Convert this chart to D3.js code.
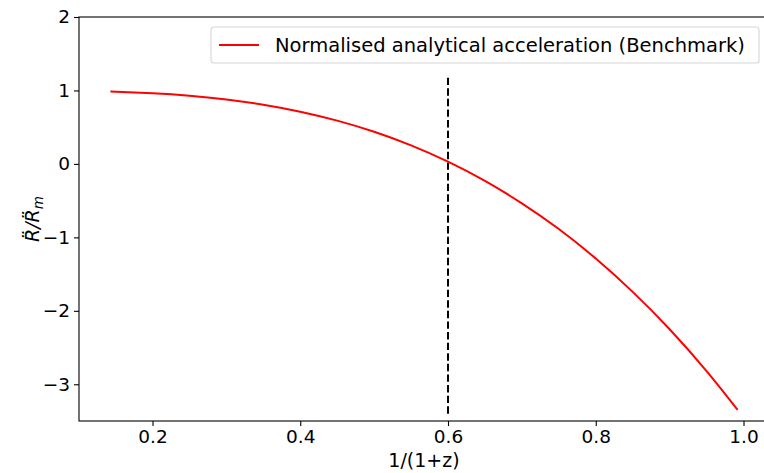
<!DOCTYPE html>
<html>
<head>
<meta charset="utf-8">
<script src="https://cdn.jsdelivr.net/npm/d3@7"></script>
<style>
  body { margin: 0; background: #fff; }
  svg { font-family: "DejaVu Sans", sans-serif; }
</style>
</head>
<body>
<svg id="chart" width="764" height="473"></svg>
<script>
// valores
let scaleFactor = [0.143, 0.20, 0.25, 0.30, 0.35, 0.40, 0.45, 0.50, 0.55, 0.60, 0.65, 0.70, 0.75, 0.80, 0.85, 0.90, 0.95, 0.992];
let accel = [0.987, 0.963, 0.929, 0.877, 0.806, 0.711, 0.589, 0.437, 0.252, 0.030, -0.232, -0.537, -0.887, -1.288, -1.742, -2.251, -2.820, -3.347];
let xTicks = [0.2, 0.4, 0.6, 0.8, 1.0];
let yTicks = [-3, -2, -1, 0, 1, 2];
let vLineX = 0.6;
let vLineY = [-3.4, 1.2];
let legendLabel = 'Normalised analytical acceleration (Benchmark)';

let margin = {left: 79, top: 17, right: 769, bottom: 421};

let svg = d3.select('#chart');

let x = d3.scaleLinear().domain([0.1005, 1.0345]).range([margin.left, margin.right]);
let y = d3.scaleLinear().domain([-3.5, 2]).range([margin.bottom, margin.top]);

// ejes
let xAxis = svg.append('g')
    .attr('transform', 'translate(0,' + margin.bottom + ')')
    .call(d3.axisBottom(x).tickValues(xTicks).tickFormat(d3.format('.1f')).tickSizeInner(5).tickSizeOuter(0).tickPadding(4));

let yAxis = svg.append('g')
    .attr('transform', 'translate(' + margin.left + ',0)')
    .call(d3.axisLeft(y).tickValues(yTicks).tickFormat(d => d < 0 ? '\u2212' + Math.abs(d) : d).tickSizeInner(5).tickSizeOuter(0).tickPadding(4));

[xAxis, yAxis].forEach(function(a) {
    a.selectAll('text').attr('font-size', 18.5).attr('fill', '#000').attr('font-family', 'DejaVu Sans');
    a.selectAll('line').attr('stroke', '#000').attr('stroke-width', 1.1);
    a.select('.domain').remove();
});

// marco
svg.append('rect')
    .attr('x', margin.left).attr('y', margin.top)
    .attr('width', margin.right - margin.left).attr('height', margin.bottom - margin.top)
    .attr('fill', 'none').attr('stroke', '#000').attr('stroke-width', 1.1);

let plot = svg.append('g');

// linea vertical discontinua
plot.append('line')
    .attr('x1', x(vLineX)).attr('x2', x(vLineX))
    .attr('y1', y(vLineY[0])).attr('y2', y(vLineY[1]))
    .attr('stroke', '#000').attr('stroke-width', 2)
    .attr('stroke-dasharray', '7.4,3.2');

let line = d3.line()
    .x((d, i) => x(scaleFactor[i]))
    .y(d => y(d))
    .curve(d3.curveNatural);

plot.append('path')
    .datum(accel)
    .attr('d', line)
    .attr('fill', 'none')
    .attr('stroke', '#ff0000')
    .attr('stroke-width', 2);

// leyenda
let legend = svg.append('g');
legend.append('rect')
    .attr('x', 211).attr('y', 27).attr('width', 548).attr('height', 36)
    .attr('rx', 3).attr('ry', 3)
    .attr('fill', '#fff').attr('fill-opacity', 0.8)
    .attr('stroke', '#d6d6d6').attr('stroke-width', 1.1);
legend.append('line')
    .attr('x1', 219).attr('x2', 259).attr('y1', 45).attr('y2', 45)
    .attr('stroke', '#ff0000').attr('stroke-width', 2);
legend.append('text')
    .attr('x', 275).attr('y', 52)
    .attr('font-size', 19.5).attr('fill', '#000')
    .text(legendLabel);

// etiquetas de ejes
svg.append('text')
    .attr('x', (margin.left + margin.right) / 2).attr('y', 467)
    .attr('text-anchor', 'middle')
    .attr('font-size', 19).attr('fill', '#000')
    .text('1/(1+z)');

let yl = svg.append('text')
    .attr('transform', 'translate(39,' + ((margin.top + margin.bottom) / 2) + ') rotate(-90)')
    .attr('text-anchor', 'middle')
    .attr('font-size', 19).attr('fill', '#000')
    .attr('font-style', 'italic');
yl.append('tspan').text('R\u0308/R\u0308');
yl.append('tspan').attr('font-size', 13.5).attr('dy', 4).text('m');
</script>
</body>
</html>
